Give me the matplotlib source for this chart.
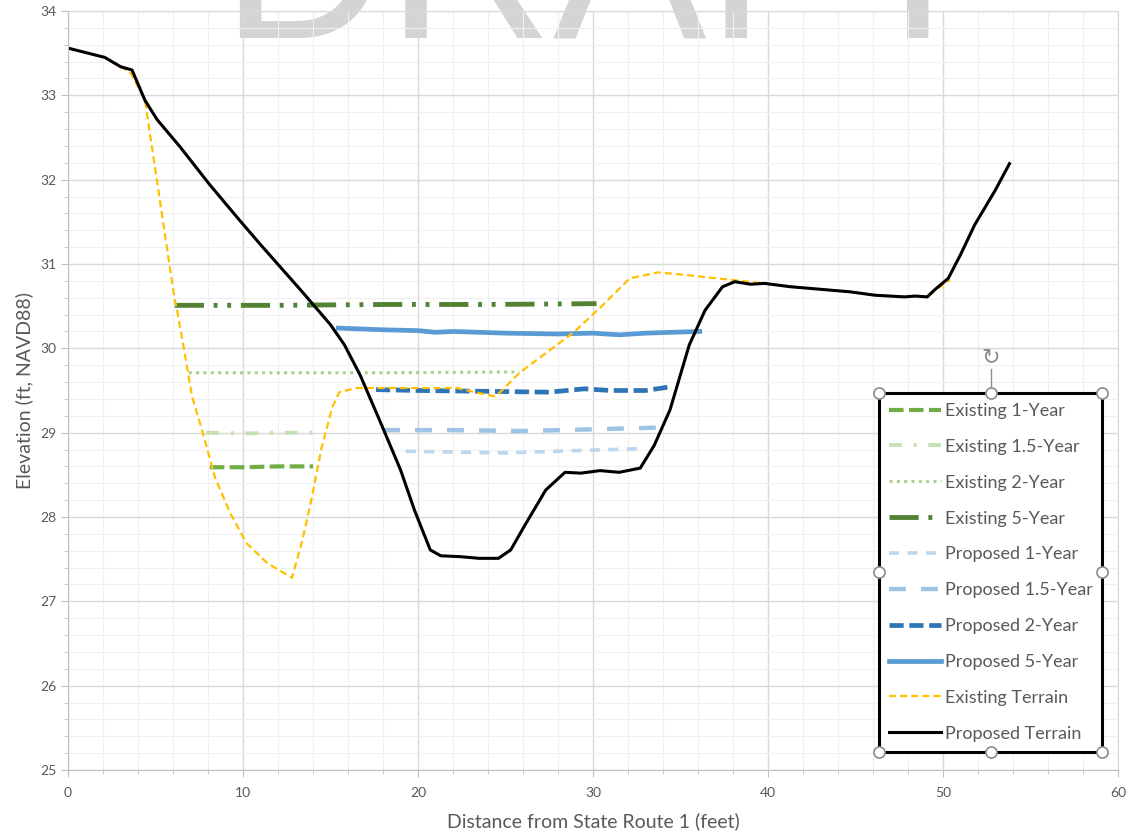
import numpy as np
import matplotlib.pyplot as plt
from matplotlib.lines import Line2D
from matplotlib.ticker import MultipleLocator

plt.rcParams["font.family"] = ["Lato", "DejaVu Sans"]

# Ground profiles (distance in ft, elevation in ft NAVD88)
proposed_x = [0.0, 2.1, 3.0, 3.66, 4.4, 5.1, 6.4, 8.1, 9.8, 11.0, 13.3, 15.0, 15.8,
              16.7, 17.8, 19.0, 19.8, 20.7, 21.3, 22.4, 23.5, 24.6, 25.3, 26.1, 27.3,
              28.4, 29.3, 30.4, 31.5, 32.7, 33.5, 34.4, 35.5, 36.4, 37.4, 38.1, 39.0,
              39.8, 41.3, 43.0, 44.7, 46.1, 47.8, 48.4, 49.1, 49.5, 50.3, 51.0, 51.8,
              53.0, 53.8]
proposed_z = [33.56, 33.45, 33.34, 33.30, 32.94, 32.71, 32.39, 31.94, 31.52, 31.23,
              30.69, 30.28, 30.04, 29.68, 29.15, 28.56, 28.08, 27.61, 27.54, 27.53,
              27.51, 27.51, 27.61, 27.90, 28.32, 28.53, 28.52, 28.55, 28.53, 28.58,
              28.85, 29.27, 30.04, 30.45, 30.73, 30.79, 30.76, 30.77, 30.73, 30.70,
              30.67, 30.63, 30.61, 30.62, 30.61, 30.69, 30.83, 31.11, 31.46, 31.88,
              32.19]

existing_x = [0.0, 2.1, 3.0, 3.6, 4.4, 6.1, 6.2, 6.6, 7.1, 7.7, 8.4, 9.26, 10.2, 11.4,
              12.8, 13.4, 13.9, 14.5, 15.1, 15.5, 16.5, 19.0, 22.2, 23.7, 24.4, 24.7,
              25.8, 28.9, 30.4, 32.1, 33.7, 34.8, 38.0, 39.8, 41.3, 43.0, 44.7, 46.1,
              47.8, 48.4, 49.1, 49.5, 50.4]
existing_z = [33.56, 33.45, 33.34, 33.26, 32.94, 30.57, 30.49, 30.02, 29.42, 29.00,
              28.47, 28.05, 27.69, 27.45, 27.28, 27.73, 28.20, 28.83, 29.30, 29.48,
              29.53, 29.53, 29.53, 29.46, 29.43, 29.48, 29.71, 30.19, 30.48, 30.83,
              30.90, 30.88, 30.81, 30.77, 30.73, 30.70, 30.67, 30.63, 30.61, 30.62,
              30.61, 30.68, 30.81]

# Water surface elevations
ex1_x = [8.1, 10.0, 12.0, 14.0]
ex1_z = [28.59, 28.59, 28.60, 28.60]
ex15_x = [7.9, 10.0, 12.0, 14.4]
ex15_z = [29.00, 28.99, 29.00, 29.00]
ex2_x = [6.9, 12.0, 18.0, 25.8]
ex2_z = [29.71, 29.71, 29.71, 29.72]
ex5_x = [6.1, 12.0, 18.0, 24.0, 30.2]
ex5_z = [30.51, 30.51, 30.52, 30.52, 30.53]

pr1_x = [19.3, 22.0, 25.0, 28.0, 31.0, 32.7]
pr1_z = [28.78, 28.77, 28.76, 28.78, 28.80, 28.81]
pr15_x = [18.0, 22.0, 26.0, 30.0, 33.7]
pr15_z = [29.03, 29.03, 29.02, 29.04, 29.06]
pr2_x = [17.6, 20.0, 24.0, 27.5, 29.5, 31.0, 33.0, 34.3]
pr2_z = [29.51, 29.50, 29.49, 29.48, 29.52, 29.50, 29.50, 29.54]
pr5_x = [15.45, 18.0, 20.0, 21.0, 22.0, 25.0, 28.0, 30.0, 31.5, 33.0, 34.5, 36.1]
pr5_z = [30.24, 30.22, 30.21, 30.19, 30.20, 30.18, 30.17, 30.18, 30.16, 30.18,
         30.19, 30.20]

fig = plt.figure(figsize=(11.26, 8.32), dpi=100)
ax = fig.add_axes([68 / 1126, 1 - 770 / 832, 1050 / 1126, 759 / 832])
ax.patch.set_alpha(0)

# big watermark across the top edge
fig.text(220 / 1126, 1 - 37 / 832, "DRAFT", fontsize=166, family="Liberation Sans",
         color="#d4d4d4", ha="left", va="baseline", zorder=-1)

series = [
    (ex1_x, ex1_z, "Existing 1-Year", "#70ad47", 3.0, (0, (3.5, 1.3))),
    (ex15_x, ex15_z, "Existing 1.5-Year", "#c5e0b4", 2.8, (0, (3.3, 3.0, 0.8, 3.0))),
    (ex2_x, ex2_z, "Existing 2-Year", "#a9d18e", 2.2, (0, (1, 1.4))),
    (ex5_x, ex5_z, "Existing 5-Year", "#548235", 3.5, (0, (6, 2, 0.8, 2, 0.8, 2))),
    (pr1_x, pr1_z, "Proposed 1-Year", "#bdd7ee", 2.6, (0, (2.8, 2.3))),
    (pr15_x, pr15_z, "Proposed 1.5-Year", "#9dc3e6", 3.2, (0, (3.8, 3.4))),
    (pr2_x, pr2_z, "Proposed 2-Year", "#2e75b6", 3.4, (0, (3.0, 1.2))),
    (pr5_x, pr5_z, "Proposed 5-Year", "#5b9bd5", 3.4, "-"),
    (existing_x, existing_z, "Existing Terrain", "#ffc000", 1.6, (0, (3.2, 1.8))),
    (proposed_x, proposed_z, "Proposed Terrain", "black", 2.2, "-"),
]
for xs, zs, label, color, lw, ls in series:
    ax.plot(xs, zs, color=color, lw=lw, ls=ls, label=label, solid_joinstyle="round")

ax.set_xlim(0, 60)
ax.set_ylim(25, 34)
ax.xaxis.set_major_locator(MultipleLocator(10))
ax.xaxis.set_minor_locator(MultipleLocator(2))
ax.yaxis.set_major_locator(MultipleLocator(1))
ax.yaxis.set_minor_locator(MultipleLocator(0.2))
ax.grid(which="major", color="#d9d9d9", lw=1.0)
ax.grid(which="minor", color="#f0f0f0", lw=0.8)
ax.set_axisbelow(True)

for side in ["top", "right"]:
    ax.spines[side].set_color("#d9d9d9")
for side in ["left", "bottom"]:
    ax.spines[side].set_color("#bfbfbf")
ax.tick_params(which="major", direction="out", length=5, color="#bfbfbf",
               labelcolor="#595959", labelsize=10)
ax.tick_params(which="minor", direction="out", length=3, color="#bfbfbf")
ax.tick_params(axis="x", pad=7)

ax.set_xlabel("Distance from State Route 1 (feet)", fontsize=14, color="#595959",
              labelpad=10)
ax.set_ylabel("Elevation (ft, NAVD88)", fontsize=14, color="#595959", labelpad=5)

leg = ax.legend(loc="upper left", bbox_to_anchor=(879 / 1126, 1 - 393 / 832),
                bbox_transform=fig.transFigure, borderaxespad=0, fontsize=13,
                handlelength=2.88, handletextpad=0.2, labelspacing=1.1,
                borderpad=0.55, fancybox=False, framealpha=1, edgecolor="black")
leg.get_frame().set_linewidth(2.2)
for t in leg.get_texts():
    t.set_color("#595959")

# selection handles around the legend box
fig.canvas.draw()
bb = leg.get_frame().get_window_extent()
W, H = fig.bbox.width, fig.bbox.height
xs = [bb.x0, (bb.x0 + bb.x1) / 2, bb.x1]
ys = [bb.y0, (bb.y0 + bb.y1) / 2, bb.y1]
pts = [(x, y) for x in xs for y in ys if not (x == xs[1] and y == ys[1])]
top_mid = (xs[1] / W, ys[2] / H)
fig.add_artist(Line2D([top_mid[0], top_mid[0]], [top_mid[1], top_mid[1] + 24 / H],
                      transform=fig.transFigure, color="#8c8c8c", lw=1))
fig.add_artist(Line2D([p[0] / W for p in pts], [p[1] / H for p in pts],
                      transform=fig.transFigure, ls="none", marker="o", ms=8,
                      mfc="white", mec="#8c8c8c", mew=1.2))
fig.text(top_mid[0], top_mid[1] + 36 / H, "\u21bb", family="DejaVu Sans", fontsize=16,
         color="#8c8c8c", ha="center", va="center")

fig.savefig("out.png", dpi=100)
